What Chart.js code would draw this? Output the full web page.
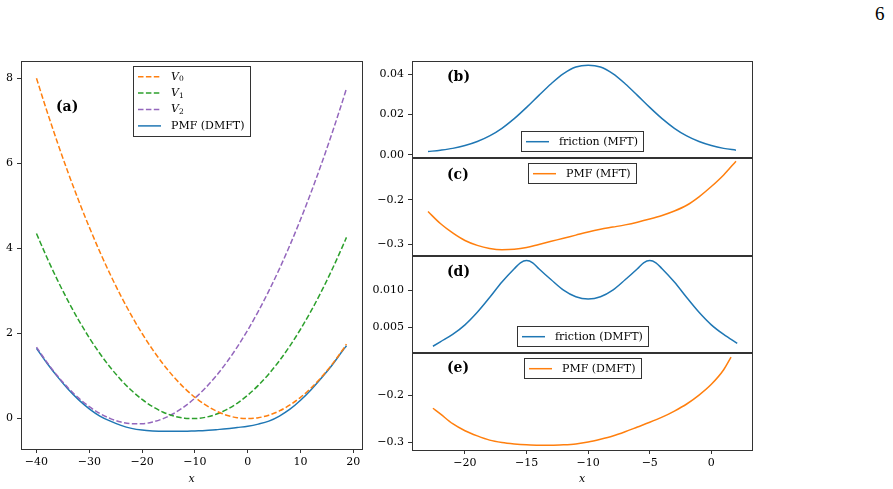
<!DOCTYPE html>
<html>
<head>
<meta charset="utf-8">
<script src="https://cdn.jsdelivr.net/npm/chart.js@4.4.1/dist/chart.umd.min.js"></script>
<style>
  html, body { margin: 0; padding: 0; background: #fff; }
  body { width: 893px; height: 489px; position: relative; overflow: hidden; }
  canvas { position: absolute; }
  #page { position: absolute; left: 875px; top: 3px; font: 19px 'Liberation Serif', serif; line-height: 22px; color: #000; }
</style>
</head>
<body>
<div id="page">6</div>
<canvas id="ca" width="370" height="439" style="left:0;top:50px"></canvas>
<canvas id="cb" width="390" height="117" style="left:370px;top:50px"></canvas>
<canvas id="cc" width="390" height="118" style="left:370px;top:147px"></canvas>
<canvas id="cd" width="390" height="117" style="left:370px;top:245px"></canvas>
<canvas id="ce" width="390" height="147" style="left:370px;top:342px"></canvas>
<script>
// panel (a): potentials and PMF
const xA = [-40, -38, -36, -34, -32, -30, -28, -26, -24, -22, -20, -18, -16, -14, -12, -10, -8, -6, -4, -2, 0, 2, 4, 6, 8, 10, 12, 14, 16, 18, 18.7];
const v0 = [8.00, 7.22, 6.48, 5.78, 5.12, 4.50, 3.92, 3.38, 2.88, 2.42, 2.00, 1.62, 1.28, 0.98, 0.72, 0.50, 0.32, 0.18, 0.08, 0.02, 0.00, 0.02, 0.08, 0.18, 0.32, 0.50, 0.72, 0.98, 1.28, 1.62, 1.75];
const v1 = [4.35, 3.78, 3.25, 2.76, 2.31, 1.90, 1.53, 1.20, 0.91, 0.66, 0.45, 0.28, 0.15, 0.06, 0.01, 0.00, 0.03, 0.10, 0.21, 0.36, 0.55, 0.78, 1.05, 1.36, 1.71, 2.10, 2.53, 3.00, 3.51, 4.06, 4.26];
const v2 = [1.68, 1.32, 1.00, 0.72, 0.48, 0.28, 0.12, 0.00, -0.08, -0.12, -0.12, -0.08, 0.00, 0.12, 0.28, 0.48, 0.72, 1.00, 1.32, 1.68, 2.08, 2.52, 3.00, 3.52, 4.08, 4.68, 5.32, 6.00, 6.72, 7.48, 7.76];
const pmfA = [1.65, 1.30, 0.98, 0.69, 0.44, 0.23, 0.06, -0.06, -0.16, -0.23, -0.27, -0.29, -0.30, -0.30, -0.30, -0.29, -0.28, -0.26, -0.24, -0.21, -0.18, -0.13, -0.06, 0.06, 0.22, 0.43, 0.68, 0.96, 1.26, 1.60, 1.71];

// panels (b), (c): MFT
const xMft = [-23, -22, -21, -20, -19, -18, -17, -16, -15, -14, -13, -12, -11, -10, -9, -8, -7, -6, -5, -4, -3, -2, -1, 0, 1, 2];
const fricMft = [0.0016, 0.0023, 0.0032, 0.0046, 0.0066, 0.0094, 0.0132, 0.0180, 0.0236, 0.0296, 0.0354, 0.0404, 0.0437, 0.0446, 0.0437, 0.0404, 0.0354, 0.0296, 0.0236, 0.0180, 0.0132, 0.0094, 0.0066, 0.0046, 0.0032, 0.0023];
const pmfMft = [-0.226, -0.253, -0.274, -0.291, -0.302, -0.309, -0.312, -0.311, -0.307, -0.300, -0.293, -0.286, -0.279, -0.272, -0.266, -0.261, -0.256, -0.250, -0.243, -0.235, -0.225, -0.212, -0.193, -0.170, -0.144, -0.113];

// panels (d), (e): DMFT
const xFricD = [-22.6, -22, -21, -20, -19, -18, -17, -16, -15.5, -15, -14.5, -14, -13, -12, -11, -10, -9, -8, -7, -6, -5.5, -5, -4.5, -4, -3, -2, -1, 0, 1, 2.1];
const fricD = [0.0024, 0.0030, 0.0040, 0.0053, 0.0070, 0.0090, 0.0111, 0.0129, 0.0137, 0.0140, 0.0137, 0.0129, 0.0114, 0.0100, 0.0091, 0.0088, 0.0091, 0.0100, 0.0114, 0.0129, 0.0137, 0.0140, 0.0137, 0.0129, 0.0111, 0.0090, 0.0070, 0.0053, 0.0040, 0.0028];
const xPmfD = [-22.6, -22, -21, -20, -19, -18, -17, -16, -15, -14, -13, -12, -11, -10, -9, -8, -7, -6, -5, -4, -3, -2, -1, 0, 1, 1.6];
const pmfD = [-0.227, -0.239, -0.260, -0.275, -0.286, -0.295, -0.300, -0.303, -0.305, -0.306, -0.306, -0.305, -0.303, -0.299, -0.293, -0.286, -0.277, -0.267, -0.257, -0.246, -0.233, -0.218, -0.199, -0.176, -0.145, -0.118];

// tick labels
const xTicksA = [-40, -30, -20, -10, 0, 10, 20];
const yTicksA = [0, 2, 4, 6, 8];
const xTicksR = [-20, -15, -10, -5, 0];
const yTicksB = [0, 0.02, 0.04];
const yTicksC = [-0.3, -0.2];
const yTicksD = [0.005, 0.010];
const yTicksE = [-0.3, -0.2];

const BLUE = '#1f77b4', ORANGE = '#ff7f0e', GREEN = '#2ca02c', PURPLE = '#9467bd';
const DASH = [5.5, 2.4];
const SPINE = '#333';
const FS = 11;

Chart.defaults.font.family = "'DejaVu Serif', serif";
Chart.defaults.font.size = FS;
Chart.defaults.color = '#000';

// legend text, with V_n drawn as italic V and subscript
function labelText(ctx, s, x, y, draw) {
    const m = /^V_(\d)$/.exec(s);
    if (!m) {
        ctx.font = FS + "px 'DejaVu Serif'";
        if (draw) ctx.fillText(s, x, y);
        return ctx.measureText(s).width;
    }
    ctx.font = "italic " + FS + "px 'DejaVu Serif'";
    if (draw) ctx.fillText('V', x, y);
    const w = ctx.measureText('V').width;
    ctx.font = "7.5px 'DejaVu Serif'";
    if (draw) ctx.fillText(m[1], x + w, y + 2.5);
    return w + ctx.measureText(m[1]).width;
}

// axes box, panel letter and boxed legend like matplotlib
const frame = {
    id: 'frame',
    afterDatasetsDraw(chart, args, opts) {
        const { ctx, chartArea: a } = chart;
        ctx.save();
        ctx.strokeStyle = SPINE;
        ctx.lineWidth = 1;
        ctx.setLineDash([]);
        ctx.strokeRect(Math.round(a.left) + 0.5, Math.round(a.top) + 0.5, Math.round(a.right - a.left), Math.round(a.bottom - a.top));

        ctx.fillStyle = '#000';
        ctx.textBaseline = 'middle';
        ctx.textAlign = 'left';
        ctx.font = "bold 14px 'DejaVu Serif'";
        ctx.fillText(opts.label, a.left + 35, a.top + opts.labelY);

        const sets = chart.data.datasets;
        const tw = Math.max(...sets.map(d => labelText(ctx, d.label, 0, 0, false)));
        const rowH = 16.4;
        const w = Math.round(4.5 + 23 + 10 + tw + 6);
        const h = Math.round(sets.length * rowH + 4);
        const left = Math.round((a.left + a.right) / 2 - w / 2) + 0.5;
        const top = Math.round(opts.loc === 'lower' ? a.bottom - 5.5 - h : a.top + 5.5) + 0.5;
        ctx.fillStyle = '#fff';
        ctx.fillRect(left, top, w, h);
        ctx.strokeStyle = SPINE;
        ctx.strokeRect(left, top, w, h);
        sets.forEach((d, i) => {
            const cy = top + 2 + rowH * (i + 0.5);
            ctx.strokeStyle = d.borderColor;
            ctx.lineWidth = 1.5;
            ctx.setLineDash(d.borderDash || []);
            ctx.beginPath();
            ctx.moveTo(left + 4.5, cy);
            ctx.lineTo(left + 27.5, cy);
            ctx.stroke();
            ctx.fillStyle = '#000';
            labelText(ctx, d.label, left + 37.5, cy, true);
        });
        ctx.restore();
    }
};

function fmt(dec) {
    return v => v.toFixed(dec).replace('-', '\u2212');
}

function makeChart(id, cfg) {
    return new Chart(document.getElementById(id), {
        type: 'line',
        data: {
            datasets: cfg.series.map(s => ({
                label: s.label,
                data: s.xs.map((x, i) => ({ x: x, y: s.ys[i] })),
                borderColor: s.color,
                borderWidth: 1.5,
                borderDash: s.dash || [],
                pointRadius: 0,
                cubicInterpolationMode: 'monotone',
                fill: false
            }))
        },
        options: {
            responsive: false,
            animation: false,
            layout: { padding: cfg.padding },
            plugins: {
                legend: { display: false },
                tooltip: { enabled: false },
                frame: { label: cfg.label, labelY: cfg.labelY, loc: cfg.loc }
            },
            scales: {
                x: {
                    type: 'linear',
                    min: cfg.xMin, max: cfg.xMax,
                    display: cfg.showX,
                    afterFit: s => { s.height = cfg.xHeight; },
                    afterBuildTicks: s => { s.ticks = cfg.xTicks.map(v => ({ value: v })); },
                    ticks: { padding: 3, callback: fmt(0), maxRotation: 0, autoSkip: false },
                    grid: { drawOnChartArea: false, drawTicks: true, tickLength: 4, tickColor: SPINE, tickWidth: 1 },
                    border: { display: false },
                    title: { display: true, text: 'x', font: { style: 'italic', size: FS }, padding: { top: 0, bottom: 3 } }
                },
                y: {
                    type: 'linear',
                    min: cfg.yMin, max: cfg.yMax,
                    afterFit: s => { s.width = cfg.yWidth; },
                    afterBuildTicks: s => { s.ticks = cfg.yTicks.map(v => ({ value: v })); },
                    ticks: { padding: 4, callback: fmt(cfg.yDec), autoSkip: false },
                    grid: { drawOnChartArea: false, drawTicks: true, tickLength: 4, tickColor: SPINE, tickWidth: 1 },
                    border: { display: false }
                }
            }
        },
        plugins: [frame]
    });
}

makeChart('ca', {
    series: [
        { label: 'V_0', xs: xA, ys: v0, color: ORANGE, dash: DASH },
        { label: 'V_1', xs: xA, ys: v1, color: GREEN, dash: DASH },
        { label: 'V_2', xs: xA, ys: v2, color: PURPLE, dash: DASH },
        { label: 'PMF (DMFT)', xs: xA, ys: pmfA, color: BLUE }
    ],
    padding: { top: 10, right: 8, bottom: 0, left: 0 },
    xMin: -42.93, xMax: 21.64, xTicks: xTicksA, showX: true, xHeight: 40,
    yMin: -0.715, yMax: 8.415, yTicks: yTicksA, yDec: 0, yWidth: 21,
    label: '(a)', labelY: 46.5, loc: 'upper'
});

const right = { xMin: -24.3, xMax: 3.3, xTicks: xTicksR, yWidth: 42 };

makeChart('cb', Object.assign({}, right, {
    series: [{ label: 'friction (MFT)', xs: xMft, ys: fricMft, color: BLUE }],
    padding: { top: 10, right: 8, bottom: 10, left: 0 },
    showX: false, xHeight: 0,
    yMin: -0.0008, yMax: 0.0469, yTicks: yTicksB, yDec: 2,
    label: '(b)', labelY: 17, loc: 'lower'
}));

makeChart('cc', Object.assign({}, right, {
    series: [{ label: 'PMF (MFT)', xs: xMft, ys: pmfMft, color: ORANGE }],
    padding: { top: 10, right: 8, bottom: 10, left: 0 },
    showX: false, xHeight: 0,
    yMin: -0.3223, yMax: -0.1050, yTicks: yTicksC, yDec: 1,
    label: '(c)', labelY: 18, loc: 'upper'
}));

makeChart('cd', Object.assign({}, right, {
    series: [{ label: 'friction (DMFT)', xs: xFricD, ys: fricD, color: BLUE }],
    padding: { top: 10, right: 8, bottom: 10, left: 0 },
    showX: false, xHeight: 0,
    yMin: 0.0017, yMax: 0.01468, yTicks: yTicksD, yDec: 3,
    label: '(d)', labelY: 17, loc: 'lower'
}));

makeChart('ce', Object.assign({}, right, {
    series: [{ label: 'PMF (DMFT)', xs: xPmfD, ys: pmfD, color: ORANGE }],
    padding: { top: 10, right: 8, bottom: 0, left: 0 },
    showX: true, xHeight: 39,
    yMin: -0.3160, yMax: -0.1085, yTicks: yTicksE, yDec: 1,
    label: '(e)', labelY: 16, loc: 'upper'
}));
</script>
</body>
</html>
